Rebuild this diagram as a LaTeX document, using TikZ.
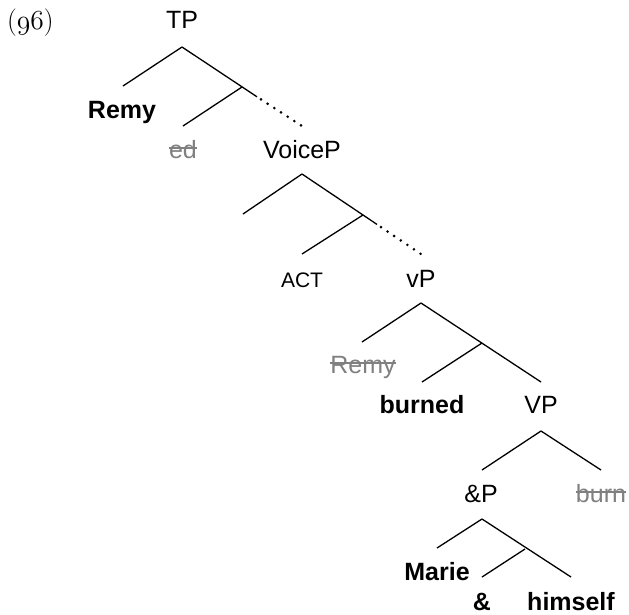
\RequirePackage{fix-cm}
\documentclass[tikz,border=0pt]{standalone}
\usepackage{fontspec}
\newfontfamily\arialf{Liberation Sans}
\usepackage{xcolor}
\definecolor{strikegray}{gray}{0.5}
\newcommand\strk[1]{{\color{strikegray}\setbox0\hbox{#1}\rlap{\rule[0.36em]{\wd0}{0.075em}}\box0}}
\begin{document}
\begin{tikzpicture}[x=1pt,y=-1pt,
  lab/.style={anchor=base,inner sep=0pt,font=\arialf\fontsize{25}{30}\selectfont},
  smalllab/.style={anchor=base,inner sep=0pt,font=\arialf\fontsize{21}{25}\selectfont},
  br/.style={line width=1.3pt},
  dotline/.style={line width=2.9pt,line cap=round,dash pattern=on 0pt off 7.95pt}]
\useasboundingbox (0,0) rectangle (629,614);
% example number
\node[anchor=base west,inner sep=0pt,font=\fontsize{27.5}{33}\selectfont] (ex) at (7,29) {($\mathnormal{96}$)};
% labels
\node[lab] (tp) at (182,28) {TP};
\node[lab] (remy) at (122,118) {\bfseries Remy};
\node[lab] (ed) at (183,158) {\strk{ed}};
\node[lab] (voicep) at (302,158) {VoiceP};
\node[smalllab] (act) at (302,287) {ACT};
\node[lab] (vp) at (421,287) {vP};
\node[lab] (remy2) at (363,373) {\strk{Remy}};
\node[lab] (burned) at (422,413) {\bfseries burned};
\node[lab] (VP) at (541,413) {VP};
\node[lab] (andp) at (481,502) {\&P};
\node[lab] (burn) at (601,502) {\strk{burn}};
\node[lab] (marie) at (437,580) {\bfseries Marie};
\node[lab] (and) at (482,610) {\bfseries \&};
\node[lab] (himself) at (571,610) {\bfseries himself};
% branch points
\coordinate (tpA) at (182,47);
\coordinate (tpL) at (123,86);
\coordinate (tpM) at (242,87);
\coordinate (tpS) at (257,96.8);
\coordinate (tpD) at (261,99.4);
\coordinate (tpR) at (301.2,125.5);
\coordinate (tpML) at (183,126);
\coordinate (vcA) at (302,174);
\coordinate (vcL) at (243,214);
\coordinate (vcM) at (363,215);
\coordinate (vcS) at (377,224.4);
\coordinate (vcD) at (381,227.1);
\coordinate (vcR) at (420.6,253.8);
\coordinate (vcML) at (302,254);
\coordinate (vpA) at (421,303);
\coordinate (vpL) at (362,342);
\coordinate (vpM) at (482,343);
\coordinate (vpR) at (541,382);
\coordinate (vpML) at (422,382);
\coordinate (VPA) at (541,431);
\coordinate (VPL) at (482,470);
\coordinate (VPR) at (601,470);
\coordinate (apA) at (482,519);
\coordinate (apL) at (437,548);
\coordinate (apM) at (525,549);
\coordinate (apR) at (571,577);
\coordinate (apML) at (482,577);
% TP
\draw[br] (tpA) -- (tpL);
\draw[br] (tpA) -- (tpS);
\draw[br] (tpM) -- (tpML);
\draw[dotline] (tpD) -- (tpR);
% VoiceP
\draw[br] (vcA) -- (vcL);
\draw[br] (vcA) -- (vcS);
\draw[br] (vcM) -- (vcML);
\draw[dotline] (vcD) -- (vcR);
% vP
\draw[br] (vpA) -- (vpL);
\draw[br] (vpA) -- (vpR);
\draw[br] (vpM) -- (vpML);
% VP
\draw[br] (VPA) -- (VPL);
\draw[br] (VPA) -- (VPR);
% &P
\draw[br] (apA) -- (apL);
\draw[br] (apA) -- (apR);
\draw[br] (apM) -- (apML);
\end{tikzpicture}
\end{document}
